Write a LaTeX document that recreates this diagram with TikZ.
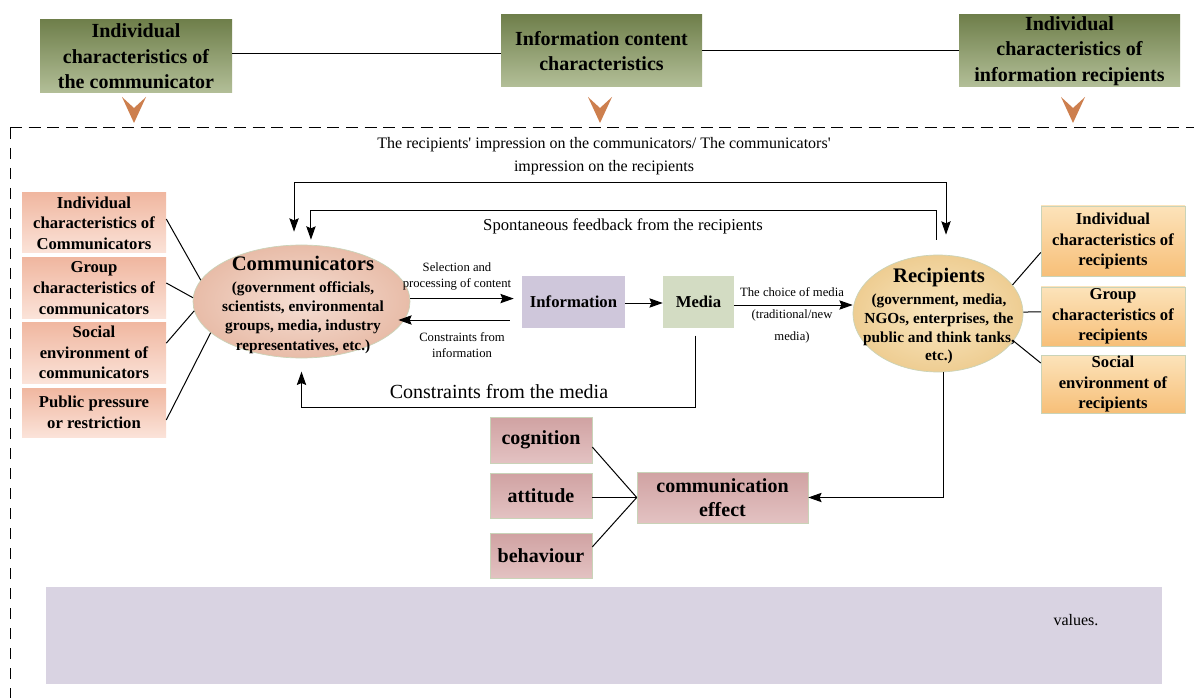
\documentclass[tikz,border=0pt]{standalone}
\usepackage{fontspec}
\setmainfont{Liberation Serif}
\usetikzlibrary{arrows.meta,shapes.geometric}
\definecolor{topA}{HTML}{6F7F4B}
\definecolor{topB}{HTML}{B3BF98}
\definecolor{lbA}{HTML}{F0B7A0}
\definecolor{lbB}{HTML}{FBE3D9}
\definecolor{rbA}{HTML}{FCE3BA}
\definecolor{rbB}{HTML}{F7BF78}
\definecolor{efA}{HTML}{D0A2A2}
\definecolor{efB}{HTML}{E3C2C2}
\definecolor{frame}{HTML}{C9D3B8}
\definecolor{infoC}{HTML}{CFC7DB}
\definecolor{mediaC}{HTML}{D3DCC3}
\definecolor{chevC}{HTML}{CD7F4E}
\definecolor{botC}{HTML}{D9D3E2}
\definecolor{cIn}{HTML}{F5DED3}
\definecolor{cOut}{HTML}{E8BCA8}
\definecolor{rIn}{HTML}{F9E7C2}
\definecolor{rOut}{HTML}{EECD92}
\begin{document}
\begin{tikzpicture}[x=0.75pt,y=-0.75pt,
  sz/.style 2 args={minimum width=#1*0.75pt, minimum height=#2*0.75pt},
  topbox/.style={inner sep=0pt, top color=topA, bottom color=topB, align=center,
    font=\fontsize{15}{19}\selectfont\bfseries},
  lbox/.style={inner sep=0pt, top color=lbA, bottom color=lbB, align=center,
    font=\fontsize{12.5}{15.5}\selectfont\bfseries},
  rbox/.style={inner sep=0pt, top color=rbA, bottom color=rbB, draw=frame, line width=0.4pt, align=center,
    font=\fontsize{12.5}{15.5}\selectfont\bfseries},
  efbox/.style={inner sep=0pt, top color=efA, bottom color=efB, draw=frame, line width=0.4pt, align=center,
    font=\fontsize{15}{18}\selectfont\bfseries},
  midbox/.style={inner sep=0pt, align=center, font=\fontsize{12.5}{15}\selectfont\bfseries},
  small/.style={align=center, inner sep=0pt, font=\fontsize{9.5}{12}\selectfont},
  lnk/.style={line width=0.75pt},
  arr/.style={line width=0.75pt, -{Stealth[length=10pt,width=7pt,inset=1.5pt]}},
  chev/.style={fill=chevC}
]
\useasboundingbox (0,0) rectangle (1194,698);
\fill[white] (0,0) rectangle (1194,698);

% top boxes
\node[topbox, sz={192}{73}] (T1) at (136,56.5) {Individual\\characteristics of\\the communicator};
\node[topbox, sz={201}{72}] (T2) at (601.5,51) {Information content\\characteristics};
\node[topbox, sz={221}{72}] (T3) at (1069.5,51) {Individual\\characteristics of\\information recipients};
\draw[lnk] ([yshift=2.6pt]T1.east) -- ([yshift=2.6pt]T1.east -| T2.west);
\draw[lnk] (T2.east) -- (T2.east -| T3.west);
\foreach \cx in {134,600,1073}{
  \fill[chev] (\cx-12,97) -- (\cx,108) -- (\cx+12,97) -- (\cx,123) -- cycle;
}
\draw[line width=0.75pt, dash pattern=on 9pt off 5pt] (10,128) -- (1194,128);
\draw[line width=0.75pt, dash pattern=on 8pt off 7pt] (10,128) -- (10,698);

% bottom panel
\node[fill=botC, inner sep=0pt, sz={1116}{97}] (B) at (604,635.5) {};
\node[font=\fontsize{12}{14}\selectfont, inner sep=0pt] (Bt) at (1076,620) {values.};

% left boxes
\node[lbox, sz={144}{60}] (L1) at (94,223) {Individual\\characteristics of\\Communicators};
\node[lbox, sz={144}{60}] (L2) at (94,288) {Group\\characteristics of\\communicators};
\node[lbox, sz={144}{61}] (L3) at (94,352.5) {Social\\environment of\\communicators};
\node[lbox, sz={144}{49}] (L4) at (94,412.5) {Public pressure\\or restriction};

% right boxes
\node[rbox, sz={144}{70}] (R1) at (1113,241) {Individual\\characteristics of\\recipients};
\node[rbox, sz={144}{59}] (R2) at (1113,316.5) {Group\\characteristics of\\recipients};
\node[rbox, sz={144}{58}] (R3) at (1113,384) {Social\\environment of\\recipients};

% ellipses
\node[ellipse, draw=frame, line width=0.5pt, inner color=cIn, outer color=cOut,
  sz={217}{113}, inner sep=0pt] (C) at (301.5,301.5) {};
\node[align=center, inner sep=0pt, font=\fontsize{11.5}{14.5}\selectfont\bfseries] (Ct) at (303,305)
  {{\fontsize{15.5}{18}\selectfont Communicators}\\[1.5pt](government officials,\\scientists, environmental\\groups, media, industry\\representatives, etc.)};
\node[ellipse, draw=frame, line width=0.5pt, inner color=rIn, outer color=rOut,
  sz={170}{117}, inner sep=0pt] (R) at (938,313.5) {};
\node[align=center, inner sep=0pt, font=\fontsize{11.5}{14}\selectfont\bfseries] (Rt) at (939,316)
  {{\fontsize{15.5}{18}\selectfont Recipients}\\[3pt](government, media,\\NGOs, enterprises, the\\public and think tanks,\\etc.)};

% middle boxes
\node[midbox, fill=infoC, sz={103}{52}] (I) at (573.5,302) {Information};
\node[midbox, fill=mediaC, sz={71}{52}] (M) at (698.5,302) {Media};

% effect boxes
\node[efbox, sz={102}{46}] (E1) at (541,440) {cognition};
\node[efbox, sz={102}{45}] (E2) at (541,495.5) {attitude};
\node[efbox, sz={102}{45}] (E3) at (541,555.5) {behaviour};
\node[efbox, sz={171}{51}] (E) at (722.5,497.5) {communication\\effect};

% left links
\draw[lnk] ([yshift=3pt]L1.east) -- (C.168.6);
\draw[lnk] ([yshift=3.75pt]L2.east) -- (C.178.7);
\draw[lnk] ([yshift=7pt]L3.east) -- (C.185.7);
\draw[lnk] ([yshift=-5.6pt]L4.east) -- (C.199.2);
% right links
\draw[lnk] (R.21.7) -- ([yshift=-8.6pt]R1.west);
\draw[lnk] (R.1) -- ([yshift=3.4pt]R2.west);
\draw[lnk] (R.-20.9) -- ([yshift=15.75pt]R3.west);

% effect links
\draw[lnk] ([yshift=-5.25pt]E1.east) -- (E.west);
\draw[lnk] ([yshift=-1.5pt]E2.east) -- (E.west);
\draw[lnk] ([yshift=6.4pt]E3.east) -- (E.west);

% flow arrows
\draw[arr] ([yshift=2.2pt]C.east) -- ([xshift=-6pt,yshift=2.2pt]C.east -| I.west);
\node[small] (selt) at (457,276.5) {Selection and\\processing of content};
\draw[arr] ([xshift=-9pt,yshift=-13.5pt]I.west) -- ([xshift=-9pt,yshift=-13.5pt]I.west -| C.east);
\node[small, font=\fontsize{9.5}{11.5}\selectfont] (cit) at (462,345) {Constraints from\\information};
\draw[arr] ([yshift=-0.75pt]I.east) -- ([yshift=-0.75pt]I.east -| M.west);
\draw[arr] ([yshift=-2.25pt]M.east) -- ([yshift=-2.25pt]M.east -| R.west);
\node[small, font=\fontsize{9.5}{16.5}\selectfont] (cht) at (792,315) {The choice of media\\(traditional/new\\media)};

% constraints from media
\draw[arr] ([xshift=-2.6pt,yshift=-5.5pt]M.south) -- ++(0,72) -| ([yshift=-10pt]C.south);
\node[font=\fontsize{15}{18}\selectfont, inner sep=0pt] (cmt) at (499,392) {Constraints from the media};

% feedback loops
\draw[line width=0.75pt, {Stealth[length=10pt,width=7pt,inset=1.5pt]}-{Stealth[length=10pt,width=7pt,inset=1.5pt]}]
  ([shift={(-5.6pt,9.75pt)}]C.north) -- ++(0,-49) -| ([shift={(6pt,15pt)}]R.north);
\draw[arr] ([shift={(-1.5pt,11.25pt)}]R.north) -- ++(0,-29) -| ([shift={(7.1pt,3.75pt)}]C.north);
\node[align=center, inner sep=0pt, font=\fontsize{12}{17}\selectfont] (fbt) at (604,156)
  {The recipients\textquotesingle{} impression on the communicators/ The communicators\textquotesingle\\impression on the recipients};
\node[inner sep=0pt, font=\fontsize{12.5}{15}\selectfont] (spt) at (623,226) {Spontaneous feedback from the recipients};

% recipients to effect
\draw[arr] ([xshift=3.75pt]R.south) |- (E.east);
\end{tikzpicture}
\end{document}
